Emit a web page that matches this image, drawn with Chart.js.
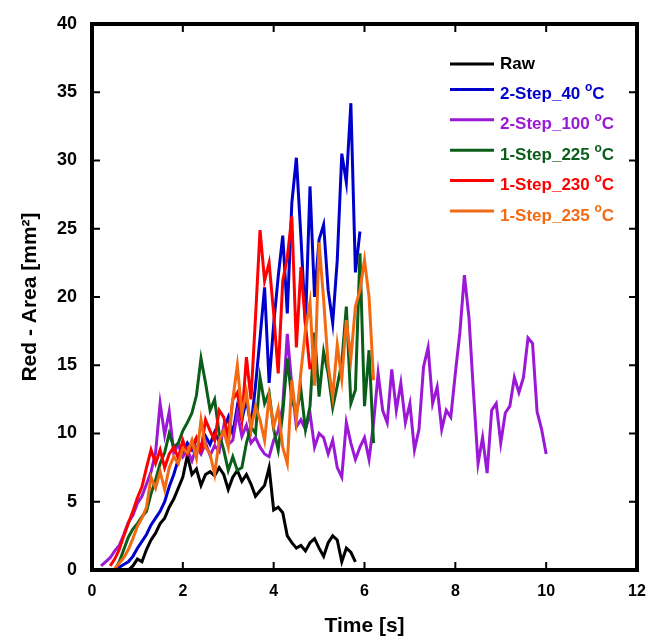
<!DOCTYPE html>
<html>
<head>
<meta charset="utf-8">
<script src="https://cdn.jsdelivr.net/npm/chart.js@4.4.1/dist/chart.umd.min.js"></script>
<style>
html,body{margin:0;padding:0;background:#fff;}
#wrap{width:651px;height:640px;position:relative;}
</style>
</head>
<body>
<div id="wrap"><canvas id="chart"></canvas></div>
<script>
// ---------- DATA ----------
const times = [
  0.0,0.1,0.2,0.3,0.4,0.5,0.6,0.7,0.8,0.9,
  1.0,1.1,1.2,1.3,1.4,1.5,1.6,1.7,1.8,1.9,
  2.0,2.1,2.2,2.3,2.4,2.5,2.6,2.7,2.8,2.9,
  3.0,3.1,3.2,3.3,3.4,3.5,3.6,3.7,3.8,3.9,
  4.0,4.1,4.2,4.3,4.4,4.5,4.6,4.7,4.8,4.9,
  5.0,5.1,5.2,5.3,5.4,5.5,5.6,5.7,5.8,5.9,
  6.0,6.1,6.2,6.3,6.4,6.5,6.6,6.7,6.8,6.9,
  7.0,7.1,7.2,7.3,7.4,7.5,7.6,7.7,7.8,7.9,
  8.0,8.1,8.2,8.3,8.4,8.5,8.6,8.7,8.8,8.9,
  9.0,9.1,9.2,9.3,9.4,9.5,9.6,9.7,9.8,9.9,
  10.0
];

const xTicks = [0,2,4,6,8,10,12];
const yTicks = [0,5,10,15,20,25,30,35,40];

const seriesNames = ["Raw","2-Step_40 °C","2-Step_100 °C","1-Step_225 °C","1-Step_230 °C","1-Step_235 °C"];
const seriesColors = ["#000000","#0000cc","#9b19d6","#0b5e1a","#ff0000","#f26a12"];

const rawStart = 0.8;
const rawArea = [
  0,0.3,0.8,0.6,1.5,2.2,2.7,3.4,3.8,4.6,
  5.2,6.0,6.8,8.4,7.0,7.4,6.2,7.0,7.2,6.9,
  7.5,7.0,5.9,6.8,7.3,6.5,7.0,6.3,5.4,5.8,
  6.2,7.5,4.4,4.6,4.2,2.5,2.0,1.6,1.8,1.4,
  2.0,2.3,1.6,1.0,2.0,2.5,2.2,0.6,1.6,1.3,
  0.6
];

const step40Start = 0.5;
const step40Area = [
  0,0.2,0.4,0.6,1.0,1.6,2.1,2.6,3.3,3.8,
  4.3,5.0,6.1,7.0,8.1,8.6,9.3,8.8,9.6,9.0,
  9.8,9.2,10.1,9.4,10.3,11.2,10.0,12.0,11.0,12.5,
  10.5,13.5,17.0,20.7,13.7,18.0,21.5,24.5,18.8,26.9,
  30.2,24.4,18.0,28.1,20.0,24.2,25.3,20.5,18.1,22.7,
  30.5,28.4,34.2,21.8,24.8
];

const step100Start = 0.2;
const step100Area = [
  0.3,0.6,0.9,1.4,1.8,2.6,3.5,4.0,4.9,5.4,
  6.3,7.2,8.6,12.2,9.9,11.6,8.6,9.2,8.3,8.8,
  8.0,9.0,8.5,9.3,8.4,9.1,8.7,10.5,9.2,9.5,
  11.5,9.8,10.6,9.3,9.7,9.0,8.5,8.3,9.5,10.2,
  12.0,17.3,13.5,10.5,11.0,10.3,11.5,9.0,10.0,9.7,
  8.5,9.5,7.5,6.8,10.8,9.3,8.1,9.0,9.7,8.1,
  10.8,14.4,11.7,10.8,14.7,11.7,13.7,10.8,12.2,8.8,
  10.3,14.9,16.3,12.2,13.4,10.3,11.7,11.2,14.4,17.4,
  21.6,18.5,13.0,7.8,9.7,7.1,11.7,12.2,9.3,11.5,
  12.0,14.1,13.0,14.1,17.0,16.6,11.6,10.3,8.5
];

const step225Start = 0.5;
const step225Area = [
  0.0,0.6,1.5,2.4,3.0,3.4,3.9,4.3,5.6,6.6,
  7.8,8.6,10.0,9.0,9.3,10.2,10.8,11.5,12.8,15.5,
  13.7,11.7,12.5,10.0,8.8,7.3,8.3,7.3,7.5,9.3,
  10.5,10.0,14.1,12.2,13.0,10.3,8.8,11.5,15.5,12.5,
  11.5,13.2,10.3,12.0,17.4,12.7,16.0,14.4,11.9,13.5,
  15.2,19.3,12.2,13.2,23.2,12.0,16.1,9.3
];

const step230Start = 0.4;
const step230Area = [
  0.3,0.8,1.5,2.5,3.4,4.3,5.3,6.1,7.5,8.8,
  7.8,8.8,7.5,8.5,9.0,8.2,9.5,8.5,9.0,9.7,
  8.8,11.0,10.2,9.5,11.7,11.2,9.8,12.5,13.0,11.0,
  15.6,12.5,18.5,24.9,21.2,22.5,18.8,14.4,21.2,22.9,
  25.9,16.3,22.2,18.0,14.7
];

const step235Start = 0.5;
const step235Area = [
  0.1,0.5,0.9,1.5,2.3,3.2,3.8,4.6,6.8,6.0,
  7.2,5.9,7.5,8.3,7.8,8.9,8.6,9.5,8.2,11.0,
  9.0,8.5,7.0,9.5,10.2,9.0,12.5,15.0,11.5,13.0,
  10.3,12.0,11.0,9.5,12.7,10.5,11.8,9.0,7.8,13.9,
  11.0,14.5,17.6,19.6,13.5,24.0,19.8,15.0,12.7,16.5,
  14.0,18.3,15.5,19.3,20.5,22.7,20.0,13.9
];

// ---------- HELPERS ----------
function toPoints(start, values){
  const i0 = times.indexOf(start);
  return values.map((v,i)=>({x:times[i0+i], y:v}));
}

const FONT = "'Liberation Sans', Arial, sans-serif";

// frame + inward ticks on all four sides
const framePlugin = {
  id:"frame",
  afterDraw(chart){
    const {ctx, chartArea:a, scales:{x,y}} = chart;
    ctx.save();
    ctx.strokeStyle = "#000";
    ctx.lineWidth = 2;
    ctx.beginPath();
    xTicks.forEach(v=>{
      const px = x.getPixelForValue(v);
      ctx.moveTo(px,a.bottom); ctx.lineTo(px,a.bottom-8);
      ctx.moveTo(px,a.top); ctx.lineTo(px,a.top+8);
    });
    yTicks.forEach(v=>{
      const py = y.getPixelForValue(v);
      ctx.moveTo(a.left,py); ctx.lineTo(a.left+8,py);
      ctx.moveTo(a.right,py); ctx.lineTo(a.right-8,py);
    });
    ctx.stroke();
    ctx.lineWidth = 4;
    ctx.strokeRect(a.left,a.top,a.right-a.left,a.bottom-a.top);
    ctx.restore();
  }
};

// legend inside the plot, top right
const legendPlugin = {
  id:"insideLegend",
  afterDraw(chart){
    const ctx = chart.ctx;
    ctx.save();
    chart.data.datasets.forEach((ds,i)=>{
      const ty = 64 + i*30.4;
      const hasDeg = ds.label.indexOf("°") >= 0;
      const ly = hasDeg ? ty-5 : ty;
      ctx.strokeStyle = ds.borderColor;
      ctx.lineWidth = 3;
      ctx.beginPath();
      ctx.moveTo(450,ly); ctx.lineTo(494,ly);
      ctx.stroke();

      ctx.fillStyle = ds.borderColor;
      ctx.textBaseline = "middle";
      ctx.textAlign = "left";
      ctx.font = "bold 17px " + FONT;
      let x = 500;
      if(hasDeg){
        const parts = ds.label.split("°");
        ctx.fillText(parts[0], x, ty);
        x += ctx.measureText(parts[0]).width;
        ctx.font = "bold 12px " + FONT;
        ctx.fillText("o", x, ty-7);
        x += ctx.measureText("o").width;
        ctx.font = "bold 17px " + FONT;
        ctx.fillText(parts[1], x, ty);
      }else{
        ctx.fillText(ds.label, x, ty);
      }
    });
    ctx.restore();
  }
};

// ---------- CHART ----------
const starts = [rawStart, step40Start, step100Start, step225Start, step230Start, step235Start];
const areas = [rawArea, step40Area, step100Area, step225Area, step230Area, step235Area];
const drawOrder = [5,4,3,2,1,0];

new Chart(document.getElementById("chart"), {
  type:"line",
  data:{
    datasets: seriesNames.map((name,i)=>({
      label:name,
      data:toPoints(starts[i], areas[i]),
      borderColor:seriesColors[i],
      backgroundColor:seriesColors[i],
      borderWidth:3,
      pointRadius:0,
      tension:0,
      fill:false,
      order:drawOrder[i]
    }))
  },
  options:{
    responsive:true,
    maintainAspectRatio:false,
    animation:false,
    layout:{ padding:{ top:24, right:14, left:0, bottom:0 } },
    plugins:{ legend:{ display:false }, tooltip:{ enabled:false } },
    scales:{
      x:{
        type:"linear",
        min:0, max:12,
        afterFit(s){ s.height = 70; s.paddingRight = 0; s.paddingLeft = 0; },
        grid:{ display:false, drawTicks:false },
        border:{ display:false },
        ticks:{
          stepSize:2,
          padding:12,
          color:"#000",
          font:{ family:FONT, size:16, weight:"bold" }
        },
        title:{
          display:true,
          text:"Time [s]",
          color:"#000",
          padding:{ top:0, bottom:1 },
          font:{ family:FONT, size:21, weight:"bold" }
        }
      },
      y:{
        min:0, max:40,
        afterFit(s){ s.width = 92; s.paddingTop = 0; s.paddingBottom = 0; },
        grid:{ display:false, drawTicks:false },
        border:{ display:false },
        ticks:{
          stepSize:5,
          padding:15,
          color:"#000",
          font:{ family:FONT, size:18, weight:"bold" }
        },
        title:{
          display:true,
          text:"Red - Area [mm²]",
          color:"#000",
          padding:{ top:18, bottom:0 },
          font:{ family:FONT, size:21, weight:"bold" }
        }
      }
    }
  },
  plugins:[framePlugin, legendPlugin]
});
</script>
</body>
</html>
